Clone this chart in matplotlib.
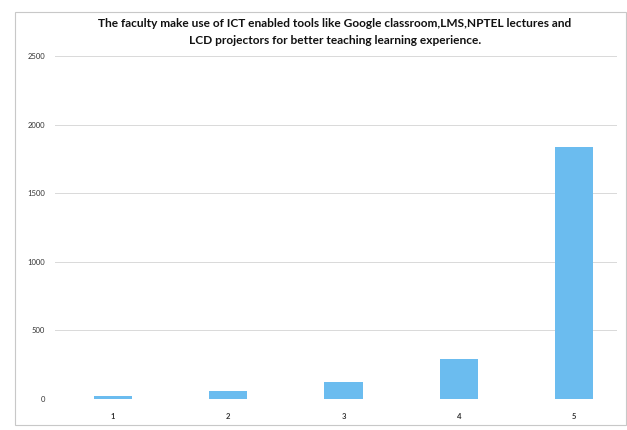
import matplotlib
matplotlib.use('Agg')
import matplotlib.pyplot as plt
from matplotlib.patches import Rectangle

# data
categories = ['1', '2', '3', '4', '5']
values = [22, 60, 125, 295, 1840]
y_ticks = [0, 500, 1000, 1500, 2000, 2500]
title = ('The faculty make use of ICT enabled tools like Google classroom,LMS,NPTEL lectures and\n'
         'LCD projectors for better teaching learning experience.')

plt.rcParams['font.family'] = ['Lato', 'DejaVu Sans']

W, H = 627, 430
fig = plt.figure(figsize=(W / 100, H / 100), dpi=100)

# chart frame
fig.patches.append(Rectangle((15 / W, 5 / H), (W - 16) / W, 413 / H, transform=fig.transFigure,
                             fill=False, edgecolor='#c8c8c8', linewidth=0.8))

ax = fig.add_axes([55 / W, (H - 399) / H, 562 / W, 343 / H])
x = list(range(1, len(categories) + 1))
ax.bar(x, values, width=0.33, color='#6bbcef', zorder=3)

ax.set_xlim(0.5, 5.37)
ax.set_ylim(0, 2500)
ax.set_yticks(y_ticks)
ax.set_yticklabels([str(v) for v in y_ticks], fontsize=5.5, color='#333333')
ax.set_xticks(x)
ax.set_xticklabels(categories, fontsize=5.5, color='#333333', fontweight='bold')
ax.tick_params(length=0, pad=7)
ax.tick_params(axis='x', pad=10)
ax.grid(axis='y', color='#d9d9d9', linewidth=0.7, zorder=0)
for s in ax.spines.values():
    s.set_visible(False)

fig.text(335 / W, 1 - 32 / H, title, ha='center', va='center', fontsize=8.6,
         fontweight='bold', color='#111111', linespacing=1.65)

fig.savefig('out.png', dpi=100)
